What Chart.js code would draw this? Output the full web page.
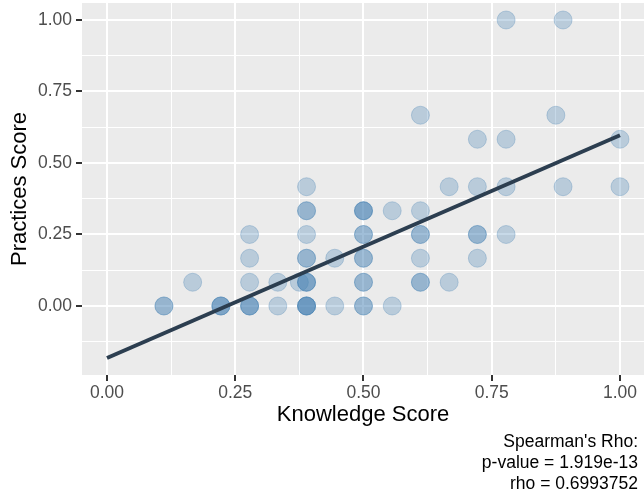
<!DOCTYPE html>
<html>
<head>
<meta charset="utf-8">
<script src="https://cdn.jsdelivr.net/npm/chart.js@4.4.1/dist/chart.umd.min.js"></script>
<style>
  html, body { margin: 0; padding: 0; background: #ffffff; }
  canvas { display: block; }
</style>
</head>
<body>
<canvas id="chart" width="644" height="494"></canvas>
<script>
// Knowledge vs. practices scores, one entry per respondent (repeats overlap).
const knowledge = [
  0.111, 0.111,
  0.167,
  0.222, 0.222, 0.222,
  0.278, 0.278, 0.278, 0.278, 0.278, 0.278,
  0.333, 0.333,
  0.375,
  0.389, 0.389, 0.389, 0.389, 0.389, 0.389, 0.389, 0.389, 0.389, 0.389, 0.389, 0.389, 0.389,
  0.444, 0.444,
  0.5, 0.5, 0.5, 0.5, 0.5, 0.5, 0.5, 0.5, 0.5, 0.5, 0.5,
  0.556, 0.556,
  0.611, 0.611, 0.611, 0.611, 0.611, 0.611, 0.611,
  0.667, 0.667,
  0.722, 0.722, 0.722, 0.722, 0.722,
  0.778, 0.778, 0.778, 0.778,
  0.875,
  0.889, 0.889,
  1, 1
];
const practices = [
  0, 0,
  0.083,
  0, 0, 0,
  0, 0, 0, 0.083, 0.167, 0.25,
  0, 0.083,
  0.083,
  0, 0, 0, 0, 0.083, 0.083, 0.083, 0.167, 0.167, 0.25, 0.333, 0.333, 0.417,
  0, 0.167,
  0, 0, 0.083, 0.083, 0.167, 0.167, 0.25, 0.25, 0.333, 0.333, 0.333,
  0, 0.333,
  0.083, 0.083, 0.167, 0.25, 0.25, 0.333, 0.667,
  0.083, 0.417,
  0.167, 0.25, 0.25, 0.417, 0.583,
  0.25, 0.417, 0.583, 1,
  0.667,
  0.417, 1,
  0.417, 0.583
];

// Linear fit endpoints
const fitX = [0, 1];
const fitY = [-0.182, 0.597];

// Axis ticks
const majorTicks = [0, 0.25, 0.5, 0.75, 1];
const tickLabels = ['0.00', '0.25', '0.50', '0.75', '1.00'];
const xMinorTicks = [0.125, 0.375, 0.625, 0.875];
const yMinorTicks = [-0.125, 0.125, 0.375, 0.625, 0.875];

const captionLines = ["Spearman's Rho:", 'p-value = 1.919e-13', 'rho = 0.6993752'];

const FONT = "'Liberation Sans', Arial, Helvetica, sans-serif";
const PANEL = '#EBEBEB';
const TICK_TEXT = '#4D4D4D';
const TICK_MARK = '#333333';

const isMajor = v => majorTicks.some(m => Math.abs(m - v) < 1e-9);
const labelFor = v => {
  const i = majorTicks.findIndex(m => Math.abs(m - v) < 1e-9);
  return i >= 0 ? tickLabels[i] : '';
};

const scatterPoints = knowledge.map((k, i) => ({ x: k, y: practices[i] }));
const fitPoints = fitX.map((x, i) => ({ x: x, y: fitY[i] }));

const gridOpts = {
  color: '#FFFFFF',
  lineWidth: ctx => (ctx.tick && isMajor(ctx.tick.value) ? 2 : 1),
  tickColor: ctx => (ctx.tick && isMajor(ctx.tick.value) ? TICK_MARK : 'rgba(0,0,0,0)'),
  tickWidth: 2,
  tickLength: 6,
  drawTicks: true,
  drawOnChartArea: true
};

// Grey panel behind the grid
const panelBackground = {
  id: 'panelBackground',
  beforeDraw(chart) {
    const { ctx, chartArea: a } = chart;
    ctx.save();
    ctx.fillStyle = PANEL;
    ctx.fillRect(a.left, a.top, a.right - a.left, a.bottom - a.top);
    ctx.restore();
  }
};

// Correlation note under the x axis, right aligned
const correlationNote = {
  id: 'correlationNote',
  afterDraw(chart) {
    const { ctx } = chart;
    ctx.save();
    ctx.font = '17.5px ' + FONT;
    ctx.fillStyle = '#000000';
    ctx.textAlign = 'right';
    ctx.textBaseline = 'middle';
    captionLines.forEach((line, i) => ctx.fillText(line, 638, 442 + i * 21));
    ctx.restore();
  }
};

new Chart(document.getElementById('chart'), {
  type: 'scatter',
  data: {
    datasets: [
      {
        label: 'Linear fit',
        data: fitPoints,
        showLine: true,
        borderColor: '#2C3E50',
        borderWidth: 4,
        borderCapStyle: 'butt',
        pointRadius: 0,
        fill: false,
        order: 0
      },
      {
        label: 'Respondents',
        data: scatterPoints,
        backgroundColor: 'rgba(70,130,180,0.3)',
        borderColor: 'rgba(70,130,180,0.3)',
        borderWidth: 1,
        pointRadius: 9,
        pointHoverRadius: 9,
        order: 1
      }
    ]
  },
  options: {
    responsive: false,
    animation: false,
    devicePixelRatio: 1,
    layout: { autoPadding: false, padding: { top: 3, right: 0, bottom: 66, left: 0 } },
    plugins: {
      legend: { display: false },
      tooltip: { enabled: false }
    },
    scales: {
      x: {
        type: 'linear',
        min: -0.0487,
        max: 1.0468,
        afterBuildTicks: axis => {
          axis.ticks = [...majorTicks, ...xMinorTicks].sort((a, b) => a - b).map(v => ({ value: v }));
        },
        afterFit: scale => {
          scale.height = 53;
          scale.paddingLeft = 0;
          scale.paddingRight = 0;
        },
        grid: gridOpts,
        border: { display: false },
        ticks: {
          autoSkip: false,
          maxRotation: 0,
          padding: 2,
          color: TICK_TEXT,
          font: { family: FONT, size: 17.5 },
          callback: v => labelFor(v)
        },
        title: {
          display: true,
          text: 'Knowledge Score',
          color: '#000000',
          font: { family: FONT, size: 22 },
          padding: { top: 0, bottom: 0 }
        }
      },
      y: {
        type: 'linear',
        min: -0.2413,
        max: 1.0594,
        afterBuildTicks: axis => {
          axis.ticks = [...majorTicks, ...yMinorTicks].sort((a, b) => a - b).map(v => ({ value: v }));
        },
        afterFit: scale => {
          scale.width = 82;
          scale.paddingTop = 0;
          scale.paddingBottom = 0;
        },
        grid: gridOpts,
        border: { display: false },
        ticks: {
          autoSkip: false,
          padding: 4,
          color: TICK_TEXT,
          font: { family: FONT, size: 17.5 },
          callback: v => labelFor(v)
        },
        title: {
          display: true,
          text: 'Practices Score',
          color: '#000000',
          font: { family: FONT, size: 22 },
          padding: { top: 7, bottom: 0 }
        }
      }
    }
  },
  plugins: [panelBackground, correlationNote]
});
</script>
</body>
</html>
